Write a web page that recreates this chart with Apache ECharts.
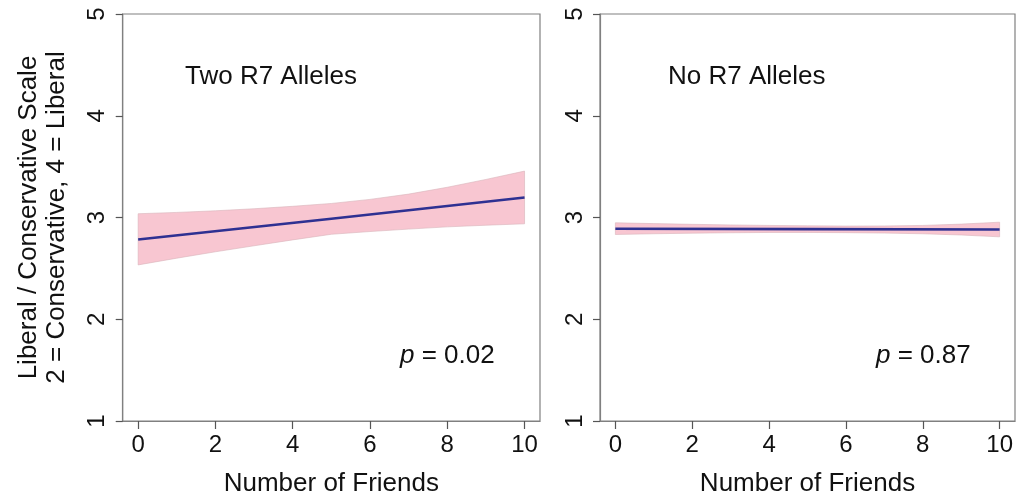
<!DOCTYPE html>
<html>
<head>
<meta charset="utf-8">
<script src="https://cdn.jsdelivr.net/npm/echarts@6/dist/echarts.min.js"></script>
<style>html,body{margin:0;padding:0;background:#fff;}#c{width:1021px;height:502px;}</style>
</head>
<body>
<div id="c"></div>
<script>
// ---- data ----
const friends = [0, 1, 2, 3, 4, 5, 6, 7, 8, 9, 10];
const xTicks = [0, 2, 4, 6, 8, 10];
const yTicks = [1, 2, 3, 4, 5];

// Left panel: Two R7 Alleles
const twoFitX = [0, 5, 10];
const twoFit = [2.783, 2.988, 3.197];
const twoUpper = [3.037, 3.050, 3.066, 3.086, 3.110, 3.138, 3.178, 3.230, 3.297, 3.374, 3.456];
const twoLower = [2.534, 2.600, 2.663, 2.722, 2.780, 2.835, 2.862, 2.886, 2.908, 2.924, 2.938];

// Right panel: No R7 Alleles
const noFitX = [0, 5, 10];
const noFit = [2.889, 2.886, 2.882];
const noUpper = [2.948, 2.940, 2.933, 2.927, 2.922, 2.918, 2.916, 2.917, 2.922, 2.935, 2.954];
const noLower = [2.833, 2.840, 2.846, 2.850, 2.853, 2.853, 2.851, 2.847, 2.840, 2.828, 2.810];

const panelLabels = ['Two R7 Alleles', 'No R7 Alleles'];
const pValues = ['0.02', '0.87'];
const xTitle = 'Number of Friends';
const yTitle = 'Liberal / Conservative Scale\n2 = Conservative, 4 = Liberal';

const FONT = "'Liberation Sans', Arial, Helvetica, sans-serif";
const BOX = '#808080';
const TICK = '#555555';
const TXT = '#111111';
const PINK = '#F8C6D1';
const NAVY = '#2E3192';

const chart = echarts.init(document.getElementById('c'), null, {renderer: 'canvas'});

function bandSeries(idx, upper, lower) {
  return {
    type: 'custom',
    xAxisIndex: idx, yAxisIndex: idx,
    data: friends.map((x, i) => [x, lower[i], upper[i]]),
    renderItem: function (params, api) {
      if (params.dataIndex !== 0) return null;
      const pts = [];
      for (let i = 0; i < friends.length; i++) pts.push(api.coord([friends[i], upper[i]]));
      for (let i = friends.length - 1; i >= 0; i--) pts.push(api.coord([friends[i], lower[i]]));
      return {
        type: 'polygon',
        shape: {points: pts},
        style: {fill: PINK, stroke: '#d9b3bb', lineWidth: 0.6}
      };
    },
    silent: true, z: 2
  };
}
function fitSeries(idx, xs, ys) {
  return {
    type: 'line', xAxisIndex: idx, yAxisIndex: idx,
    data: xs.map((x, i) => [x, ys[i]]),
    symbol: 'none', lineStyle: {color: NAVY, width: 2.6}, z: 3, silent: true
  };
}
function xAxisDef(idx) {
  return {
    type: 'value', gridIndex: idx, min: -0.4, max: 10.4,
    name: xTitle, nameLocation: 'middle', nameGap: 50,
    nameTextStyle: {fontFamily: FONT, fontSize: 26, color: TXT},
    axisLine: {show: true, onZero: false, lineStyle: {color: BOX, width: 1.2}},
    axisTick: {show: true, customValues: xTicks, length: 8, lineStyle: {color: TICK, width: 1.2}},
    axisLabel: {customValues: xTicks, fontFamily: FONT, fontSize: 24, color: TXT, margin: 12},
    splitLine: {show: false}
  };
}
function yAxisDef(idx, withName) {
  const a = {
    type: 'value', gridIndex: idx, min: 1, max: 5, interval: 1,
    axisLine: {show: true, onZero: false, lineStyle: {color: BOX, width: 1.2}},
    axisTick: {show: true, length: 7, lineStyle: {color: TICK, width: 1.2}},
    axisLabel: {fontFamily: FONT, fontSize: 24, color: TXT, rotate: 90, margin: 13},
    splitLine: {show: false}
  };
  if (withName) {
    a.name = yTitle;
    a.nameLocation = 'middle';
    a.nameRotate = 90;
    a.nameGap = 52;
    a.nameTextStyle = {fontFamily: FONT, fontSize: 26, color: TXT, lineHeight: 28};
  }
  return a;
}

const option = {
  backgroundColor: '#ffffff',
  animation: false,
  grid: [
    {left: 122.7, right: 481, top: 14, bottom: 80, show: true, borderColor: BOX, borderWidth: 1.2, backgroundColor: 'transparent'},
    {left: 600, right: 6, top: 14, bottom: 80, show: true, borderColor: BOX, borderWidth: 1.2, backgroundColor: 'transparent'}
  ],
  xAxis: [xAxisDef(0), xAxisDef(1)],
  yAxis: [yAxisDef(0, true), yAxisDef(1, false)],
  series: [
    bandSeries(0, twoUpper, twoLower),
    fitSeries(0, twoFitX, twoFit),
    bandSeries(1, noUpper, noLower),
    fitSeries(1, noFitX, noFit)
  ],
  graphic: [
    {type: 'text', left: 185, top: 64, style: {text: panelLabels[0], font: '26px ' + FONT, fill: TXT}},
    {type: 'text', left: 668, top: 64, style: {text: panelLabels[1], font: '26px ' + FONT, fill: TXT}},
    {type: 'text', left: 400, top: 343, style: {
      text: '{i|p} = ' + pValues[0],
      font: '26px ' + FONT, fill: TXT,
      rich: {i: {fontStyle: 'italic', fontFamily: FONT, fontSize: 26, fill: TXT}}
    }},
    {type: 'text', left: 876, top: 343, style: {
      text: '{i|p} = ' + pValues[1],
      font: '26px ' + FONT, fill: TXT,
      rich: {i: {fontStyle: 'italic', fontFamily: FONT, fontSize: 26, fill: TXT}}
    }}
  ]
};
chart.setOption(option);
</script>
</body>
</html>
